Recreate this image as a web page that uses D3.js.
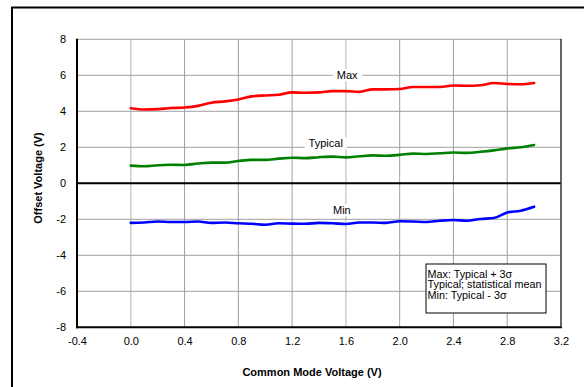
<!DOCTYPE html>
<html>
<head>
<meta charset="utf-8">
<script src="https://cdn.jsdelivr.net/npm/d3@7"></script>
<style>
  body { margin: 0; background: #fff; }
  svg { display: block; font-family: "Liberation Sans", Arial, sans-serif; }
  .grid line { stroke: #a0a0a0; stroke-width: 1; }
  .grid line.light { stroke: #cccccc; stroke-width: 1.5; }
  .tick text { font-size: 11px; fill: #000; }
</style>
</head>
<body>
<div id="chart"></div>
<script>
// common mode voltage (V)
var cmv = [0.0, 0.1, 0.2, 0.3, 0.4, 0.5, 0.6, 0.7, 0.8, 0.9, 1.0, 1.1, 1.2, 1.3, 1.4, 1.5,
           1.6, 1.7, 1.8, 1.9, 2.0, 2.1, 2.2, 2.3, 2.4, 2.5, 2.6, 2.7, 2.8, 2.9, 3.0];

var maxV = [4.17, 4.10, 4.12, 4.18, 4.21, 4.30, 4.48, 4.55, 4.66, 4.83, 4.88, 4.92, 5.05, 5.03, 5.05, 5.12,
            5.12, 5.08, 5.22, 5.22, 5.24, 5.35, 5.35, 5.35, 5.43, 5.42, 5.45, 5.57, 5.52, 5.50, 5.57];

var typV = [0.98, 0.95, 1.00, 1.03, 1.02, 1.10, 1.15, 1.15, 1.24, 1.30, 1.30, 1.37, 1.42, 1.40, 1.45, 1.48,
            1.44, 1.50, 1.55, 1.53, 1.58, 1.65, 1.63, 1.67, 1.71, 1.69, 1.75, 1.83, 1.94, 2.00, 2.13];

var minV = [-2.20, -2.18, -2.12, -2.15, -2.15, -2.12, -2.20, -2.18, -2.22, -2.25, -2.30, -2.22, -2.24, -2.25, -2.20, -2.22,
            -2.26, -2.18, -2.18, -2.20, -2.11, -2.12, -2.15, -2.08, -2.04, -2.08, -1.98, -1.93, -1.62, -1.52, -1.30];

var xTicks = [-0.4, 0.0, 0.4, 0.8, 1.2, 1.6, 2.0, 2.4, 2.8, 3.2];
var yTicks = [-8, -6, -4, -2, 0, 2, 4, 6, 8];
var legendLines = ["Max: Typical + 3\u03c3", "Typical; statistical mean", "Min: Typical - 3\u03c3"];

var width = 584, height = 387;
var plot = {left: 77, right: 561, top: 39.3, bottom: 327.3};

// plain hyphen for negatives, like the original
var locale = d3.formatLocale({decimal: ".", thousands: ",", grouping: [3], currency: ["", ""], minus: "-"});

var svg = d3.select("#chart").append("svg")
	.attr("width", width)
	.attr("height", height);

// outer frame
svg.append("rect")
	.attr("x", 12).attr("y", 7.5)
	.attr("width", 600).attr("height", 400)
	.attr("fill", "none")
	.attr("stroke", "#000")
	.attr("stroke-width", 2);

var x = d3.scaleLinear().domain([-0.4, 3.2]).range([plot.left, plot.right]);
var y = d3.scaleLinear().domain([-8, 8]).range([plot.bottom, plot.top]);

// grid
var grid = svg.append("g").attr("class", "grid");
grid.selectAll(".vx").data(xTicks.slice(1, -1)).enter().append("line")
	.attr("class", function(d) { return (d === 0 || d === 1.6) ? "light" : null; })
	.attr("x1", function(d) { return x(d); }).attr("x2", function(d) { return x(d); })
	.attr("y1", plot.top).attr("y2", plot.bottom);
grid.selectAll(".hy").data(yTicks.slice(1)).enter().append("line")
	.attr("y1", function(d) { return y(d); }).attr("y2", function(d) { return y(d); })
	.attr("x1", plot.left).attr("x2", plot.right);

// axes (labels only)
var xAxis = d3.axisBottom(x).tickValues(xTicks).tickSize(0).tickPadding(10)
	.tickFormat(locale.format(".1f"));
var xAxisG = svg.append("g")
	.attr("transform", "translate(0," + plot.bottom + ")")
	.call(xAxis);
xAxisG.select(".domain").remove();

var yAxis = d3.axisLeft(y).tickValues(yTicks).tickSize(0).tickPadding(11)
	.tickFormat(locale.format("d"));
var yAxisG = svg.append("g")
	.attr("transform", "translate(" + plot.left + ",0)")
	.call(yAxis);
yAxisG.select(".domain").remove();
svg.selectAll(".tick text").style("font-family", "'Liberation Sans', Arial, sans-serif");

// zero line
svg.append("line")
	.attr("x1", plot.left).attr("x2", plot.right)
	.attr("y1", y(0)).attr("y2", y(0))
	.attr("stroke", "#000").attr("stroke-width", 2);

// plot frame: heavy left/bottom, light right
svg.append("line")
	.attr("x1", plot.left).attr("x2", plot.left)
	.attr("y1", plot.top - 0.5).attr("y2", plot.bottom + 1)
	.attr("stroke", "#000").attr("stroke-width", 2);
svg.append("line")
	.attr("x1", plot.left - 1).attr("x2", plot.right + 1)
	.attr("y1", plot.bottom).attr("y2", plot.bottom)
	.attr("stroke", "#000").attr("stroke-width", 2);
svg.append("line")
	.attr("x1", plot.right).attr("x2", plot.right)
	.attr("y1", plot.top - 0.5).attr("y2", plot.bottom)
	.attr("stroke", "#333").attr("stroke-width", 1.5);

// series
var line = d3.line()
	.x(function(d) { return x(d[0]); })
	.y(function(d) { return y(d[1]); })
	.curve(d3.curveMonotoneX);

var series = [
	{name: "Max", vals: maxV, color: "#ff0000", lx: 1.61, ly: 6},
	{name: "Typical", vals: typV, color: "#008000", lx: 1.45, ly: 2.22},
	{name: "Min", vals: minV, color: "#0000ff", lx: 1.57, ly: -1.48}
];

series.forEach(function(s) {
	svg.append("path")
		.datum(cmv.map(function(c, i) { return [c, s.vals[i]]; }))
		.attr("fill", "none")
		.attr("stroke", s.color)
		.attr("stroke-width", 2.6)
		.attr("stroke-linejoin", "round")
		.attr("stroke-linecap", "round")
		.attr("d", line);

	var t = svg.append("text")
		.attr("x", x(s.lx)).attr("y", y(s.ly))
		.attr("dy", "0.35em")
		.attr("text-anchor", "middle")
		.style("font-size", "11px")
		.text(s.name);
	var bb = t.node().getBBox();
	svg.insert("rect", function() { return t.node(); })
		.attr("x", bb.x - 4).attr("y", bb.y)
		.attr("width", bb.width + 8).attr("height", bb.height)
		.attr("fill", "#fff");
});

// legend box
var lg = svg.append("g").attr("transform", "translate(426,264)");
lg.append("rect")
	.attr("width", 120).attr("height", 49)
	.attr("fill", "#fff").attr("stroke", "#000").attr("stroke-width", 1);
lg.selectAll("text").data(legendLines).enter().append("text")
	.attr("x", 1.5)
	.attr("y", function(d, i) { return 13.5 + i * 10.8; })
	.style("font-size", "10.8px")
	.text(function(d) { return d; });

// axis titles
svg.append("text")
	.attr("x", 312).attr("y", 376)
	.attr("text-anchor", "middle")
	.style("font-size", "11px").style("font-weight", "bold")
	.text("Common Mode Voltage (V)");

svg.append("text")
	.attr("transform", "translate(42,178) rotate(-90)")
	.attr("text-anchor", "middle")
	.style("font-size", "11px").style("font-weight", "bold")
	.text("Offset Voltage (V)");
</script>
</body>
</html>
